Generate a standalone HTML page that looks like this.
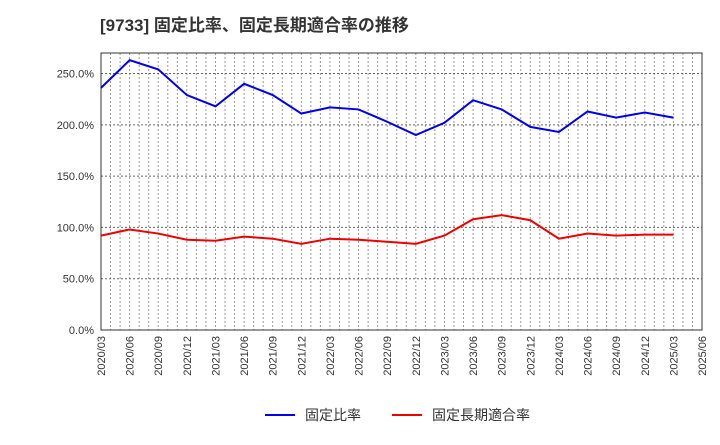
<!DOCTYPE html>
<html><head><meta charset="utf-8">
<style>
body{margin:0;background:#fff;width:720px;height:440px;overflow:hidden;font-family:"Liberation Sans","Noto Sans CJK JP",sans-serif;}
</style></head>
<body>
<svg id="c" width="720" height="440" xmlns="http://www.w3.org/2000/svg">
<text x="100" y="31" font-size="17" font-weight="bold" fill="#333">[9733]  固定比率、固定長期適合率の推移</text>
</svg>
<script>
const categories=["2020/03","2020/06","2020/09","2020/12","2021/03","2021/06","2021/09","2021/12","2022/03","2022/06","2022/09","2022/12","2023/03","2023/06","2023/09","2023/12","2024/03","2024/06","2024/09","2024/12","2025/03"];
const xTickLabels=["2020/03","2020/06","2020/09","2020/12","2021/03","2021/06","2021/09","2021/12","2022/03","2022/06","2022/09","2022/12","2023/03","2023/06","2023/09","2023/12","2024/03","2024/06","2024/09","2024/12","2025/03","2025/06"];
const fixedRatio=[236,263,254,229,218,240,229,211,217,215,203,190,202,224,215,198,193,213,207,212,207];
const fixedLongTermRatio=[92,98,94,88,87,91,89,84,89,88,86,84,92,108,112,107,89,94,92,93,93];
const yTicks=[0,50,100,150,200,250];
const L=101,R=702,T=53,B=330,YMAX=270,NQ=21;
const svg=document.getElementById('c');const NS="http://www.w3.org/2000/svg";
function xs(i){return L+(R-L)*i/NQ;}
function ys(v){return B-(B-T)*v/YMAX;}
function mk(t,a,p){const e=document.createElementNS(NS,t);for(const k in a)e.setAttribute(k,a[k]);(p||svg).appendChild(e);return e;}
for(let m=1;m<NQ*3;m++){const x=L+(R-L)*m/(NQ*3);
const g=mk('line',{x1:x,x2:x,y1:T,y2:B,stroke:'#999','stroke-width':1,'stroke-dasharray':'2,2'});

}
yTicks.forEach(v=>{const y=ys(v);
if(v>0){const g=mk('line',{x1:L,x2:R,y1:y,y2:y,stroke:'#666','stroke-width':1,'stroke-dasharray':'2,2'});

}
const t=mk('text',{x:L-7,y:y+4,'text-anchor':'end','font-size':11,fill:'#333'});t.textContent=v.toFixed(1)+'%';

});
const fr=mk('rect',{x:L,y:T,width:R-L,height:B-T,fill:'none',stroke:'#333','stroke-width':1});


xTickLabels.forEach((s,i)=>{const x=xs(i);const t=mk('text',{transform:`translate(${x+4},${B+6}) rotate(-90)`,'text-anchor':'end','font-size':11,fill:'#333'});t.textContent=s;

});
function line(d,c,n){const p=mk('polyline',{points:d.map((v,i)=>xs(i)+','+ys(v)).join(' '),fill:'none',stroke:c,'stroke-width':2});

}
line(fixedRatio,'#0000ee','fixed-ratio-line');
line(fixedLongTermRatio,'#ee0000','fixed-long-term-ratio-line');
function leg(x,c,s,n){const g=mk('g',{});
mk('line',{x1:x,x2:x+30,y1:415,y2:415,stroke:c,'stroke-width':2},g);
const t=mk('text',{x:x+40,y:420,'font-size':14,fill:'#333'},g);t.textContent=s;}
leg(265,'#0000ee','固定比率','legend-fixed-ratio');
leg(392,'#ee0000','固定長期適合率','legend-fixed-long-term-ratio');
</script>
</body></html>
